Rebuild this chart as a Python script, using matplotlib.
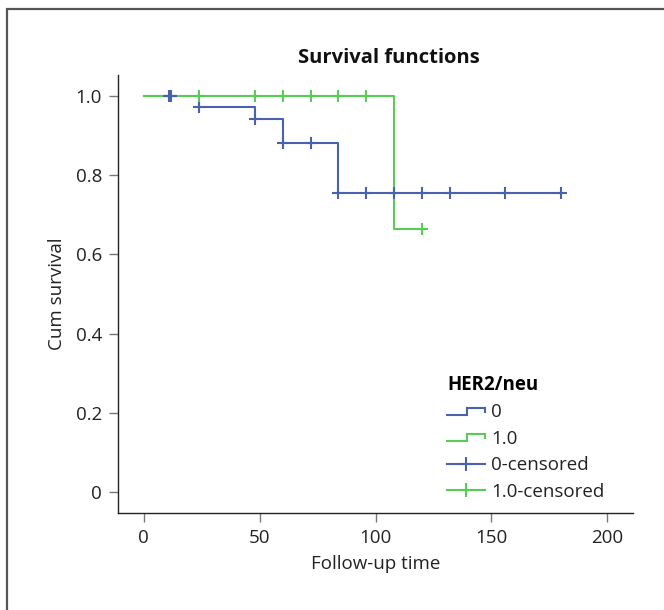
import numpy as np
import matplotlib
matplotlib.use("Agg")
import matplotlib.pyplot as plt
from matplotlib.lines import Line2D
from matplotlib.patches import Rectangle
from matplotlib.legend_handler import HandlerBase

plt.rcParams['font.family'] = ['Open Sans', 'DejaVu Sans']
plt.rcParams['font.size'] = 13.5

# Kaplan-Meier step data
blue_time = [0, 24, 48, 60, 84, 180]
blue_surv = [1.0, 0.972, 0.942, 0.880, 0.755, 0.755]
blue_cens = [11, 12, 24, 48, 60, 72, 84, 96, 108, 120, 132, 156, 180]

green_time = [0, 108, 120]
green_surv = [1.0, 0.665, 0.665]
green_cens = [24, 48, 60, 72, 84, 96, 120]

groups = ['0', '1.0']
legend_title = 'HER2/neu'
xticks = [0, 50, 100, 150, 200]
yticks = [0, 0.2, 0.4, 0.6, 0.8, 1.0]
ytick_labels = ['0', '0.2', '0.4', '0.6', '0.8', '1.0']

BLUE = '#4862ad'
GREEN = '#57cc57'


def level_at(times, surv, t):
    i = np.searchsorted(times, t, side='right') - 1
    return surv[i]


class StepHandler(HandlerBase):
    # legend icon drawn as a little step, like SPSS does
    def create_artists(self, legend, orig_handle, xdescent, ydescent,
                       width, height, fontsize, trans):
        x0 = -xdescent
        x1 = x0 + width
        xm = x0 + width * 0.52
        ylo = -ydescent + height * 0.2
        yhi = -ydescent + height * 0.75
        ln = Line2D([x0, xm, xm, x1, x1], [ylo, ylo, yhi, yhi, yhi - height * 0.3],
                    color=orig_handle.get_color(), lw=orig_handle.get_linewidth(),
                    solid_joinstyle='miter')
        ln.set_transform(trans)
        return [ln]


fig = plt.figure(figsize=(6.64, 6.10), dpi=100)
ax = fig.add_axes([118/664, 1-513/610, (633-118)/664, (513-75)/610])

# frame around the whole picture (only left and top visible)
fig.patches.append(Rectangle((7/664, -0.1), 1.2, 1-9/610+0.1, transform=fig.transFigure,
                             fill=False, edgecolor='#555555', lw=1.6))

lw = 1.5
l0, = ax.plot(blue_time, blue_surv, drawstyle='steps-post', color=BLUE, lw=lw, zorder=2)
l1, = ax.plot(green_time, green_surv, drawstyle='steps-post', color=GREEN, lw=lw, zorder=3)
bc = [level_at(blue_time, blue_surv, t) for t in blue_cens]
gc = [level_at(green_time, green_surv, t) for t in green_cens]
ax.plot(blue_cens, bc, ls='none', marker='+', ms=8, mew=1.5, color=BLUE, zorder=4)
ax.plot(green_cens, gc, ls='none', marker='+', ms=8, mew=1.5, color=GREEN, zorder=5)

ax.set_xlim(-11, 211)
ax.set_ylim(-0.052, 1.052)
ax.set_xticks(xticks)
ax.set_yticks(yticks)
ax.set_yticklabels(ytick_labels)

for s in ['top', 'right']:
    ax.spines[s].set_visible(False)
for s in ['left', 'bottom']:
    ax.spines[s].set_color('#222222')
    ax.spines[s].set_linewidth(1.0)
ax.tick_params(length=6.5, width=1.0, color='#777777', labelcolor='#222222', pad=5)

ax.set_xlabel('Follow-up time', color='#222222', labelpad=6)
ax.set_ylabel('Cum survival', color='#222222', labelpad=7)
fig.text(389/664, 1-58/610, 'Survival functions', ha='center', va='center',
         fontweight='bold', fontsize=14.5, color='#111111')

h0 = Line2D([], [], color=BLUE, lw=lw)
h1 = Line2D([], [], color=GREEN, lw=lw)
h2 = Line2D([], [], color=BLUE, lw=lw, marker='+', ms=10, mew=1.5)
h3 = Line2D([], [], color=GREEN, lw=lw, marker='+', ms=10, mew=1.5)
leg = ax.legend([h0, h1, h2, h3], groups + [g + '-censored' for g in groups],
                title=legend_title, title_fontproperties={'weight': 'bold', 'size': 13.5},
                handler_map={h0: StepHandler(), h1: StepHandler()},
                loc='upper left', bbox_to_anchor=(447/664, 1-375/610),
                bbox_transform=fig.transFigure, frameon=False, alignment='left',
                handlelength=2.0, handletextpad=0.35, labelspacing=0.45,
                borderaxespad=0, borderpad=0, numpoints=1)
for t in leg.get_texts():
    t.set_color('#222222')

fig.savefig('out.png', dpi=100)
